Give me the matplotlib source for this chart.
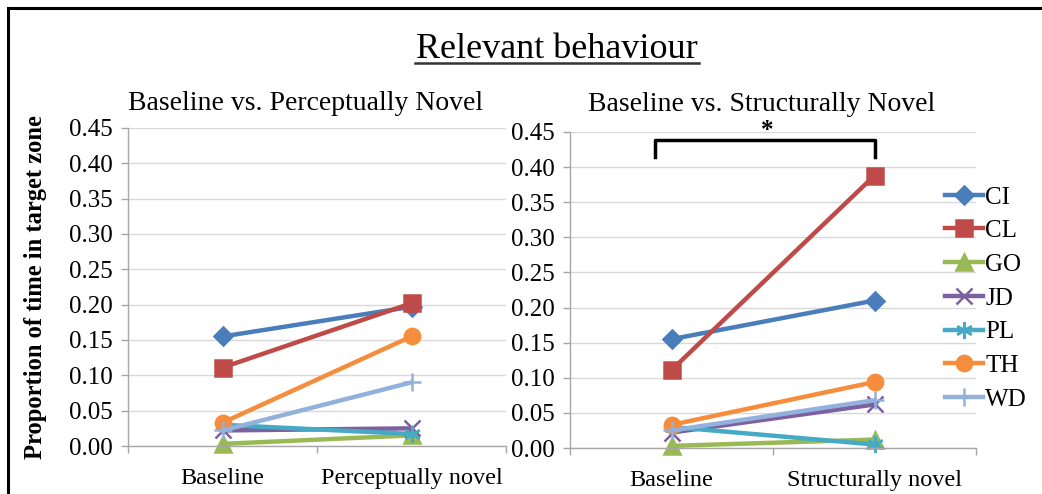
import matplotlib.pyplot as plt
from matplotlib.patches import Rectangle

plt.rcParams["font.family"] = ["Liberation Serif", "DejaVu Serif"]

# ---- Data ----
SUBJECTS = ["CI", "CL", "GO", "JD", "PL", "TH", "WD"]
CATS_PERC = ["Baseline", "Perceptually novel"]
CATS_STRUCT = ["Baseline", "Structurally novel"]
BASELINE = [0.155, 0.111, 0.003, 0.022, 0.030, 0.033, 0.022]
PERC_NOVEL = [0.197, 0.202, 0.015, 0.025, 0.017, 0.155, 0.090]
BASELINE_S = [0.155, 0.111, 0.003, 0.022, 0.030, 0.033, 0.025]
STRUCT_NOVEL = [0.210, 0.388, 0.012, 0.062, 0.005, 0.094, 0.068]
YTICKS = [0.00, 0.05, 0.10, 0.15, 0.20, 0.25, 0.30, 0.35, 0.40, 0.45]

# ---- Style ----
COLORS = ["#4A7EBB", "#BE4B48", "#98B954", "#7D60A0", "#46AAC5", "#F68D3C", "#93B1DD"]
MARKERS = ["D", "s", "^", "x", (6, 2, 0), "o", "+"]
MSIZES = [9, 11, 11, 12, 12, 11, 13]
GRID = "#D9D9D9"
AXIS = "#A6A6A6"

fig = plt.figure(figsize=(10.42, 4.94), dpi=100)

# outer frame, cut off at right and bottom
fig.patches.append(Rectangle((8 / 1042, -0.2), 1.2, 1.2 - 8 / 494, transform=fig.transFigure,
                             fill=False, edgecolor="black", linewidth=2.2))

ax1 = fig.add_axes([128 / 1042, 1 - 446 / 494, 378 / 1042, 318 / 494])
ax2 = fig.add_axes([570 / 1042, 1 - 448 / 494, 406 / 1042, 316 / 494])


def style(ax, cats):
    ax.set_xlim(-0.5, 1.5)
    ax.set_ylim(0, 0.45)
    ax.set_yticks(YTICKS)
    ax.set_yticklabels([f"{v:.2f}" for v in YTICKS])
    ax.set_xticks([0, 1])
    ax.set_xticklabels(cats)
    ax.set_xticks([-0.5, 0.5, 1.5], minor=True)
    ax.tick_params(axis="x", which="major", length=0, labelsize=17.5, pad=16)
    ax.tick_params(axis="x", which="minor", length=5, width=1, color=AXIS, direction="out")
    ax.tick_params(axis="y", length=5, width=1, color=AXIS, labelsize=18, pad=6)
    for s in ["top", "right"]:
        ax.spines[s].set_visible(False)
    for s in ["left", "bottom"]:
        ax.spines[s].set_color(AXIS)
        ax.spines[s].set_linewidth(1)
    ax.grid(axis="y", color=GRID, linewidth=1)
    ax.set_axisbelow(True)


def draw(ax, a, b):
    for i, name in enumerate(SUBJECTS):
        ax.plot([0, 1], [a[i], b[i]], color=COLORS[i], linewidth=3.2, marker=MARKERS[i],
                markersize=MSIZES[i], markeredgewidth=1.8, label=name, clip_on=False)


draw(ax1, BASELINE, PERC_NOVEL)
draw(ax2, BASELINE_S, STRUCT_NOVEL)
style(ax1, CATS_PERC)
style(ax2, CATS_STRUCT)

ax1.set_title("Baseline vs. Perceptually Novel", fontsize=20, x=0.471, pad=13)
ax2.set_title("Baseline vs. Structurally Novel", fontsize=20, x=0.473, pad=15)
ax1.set_ylabel("Proportion of time in target zone", fontsize=17.7, fontweight="bold", labelpad=16)

# significance bracket
ax2.plot([-0.079, -0.079, 1.0, 1.0], [0.414, 0.4386, 0.4386, 0.414], color="black",
         linewidth=2.5, clip_on=False, solid_joinstyle="round")
ax2.text(0.47, 0.452, "*", ha="center", va="center", fontsize=18, fontweight="bold")

fig.text(557 / 1042, 1 - 49 / 494, "Relevant behaviour", ha="center", va="center", fontsize=26)
fig.add_artist(plt.Line2D([415 / 1042, 699 / 1042], [1 - 63 / 494] * 2, color="#333333", linewidth=1.8))

handles, labels = ax2.get_legend_handles_labels()
fig.legend(handles, labels, loc="upper left", bbox_to_anchor=(945 / 1042, 1 - 186 / 494),
           frameon=False, fontsize=18, handlelength=1.5, handletextpad=0.1,
           labelspacing=0.45, borderaxespad=0, borderpad=0)

fig.savefig("out.png", dpi=100)
